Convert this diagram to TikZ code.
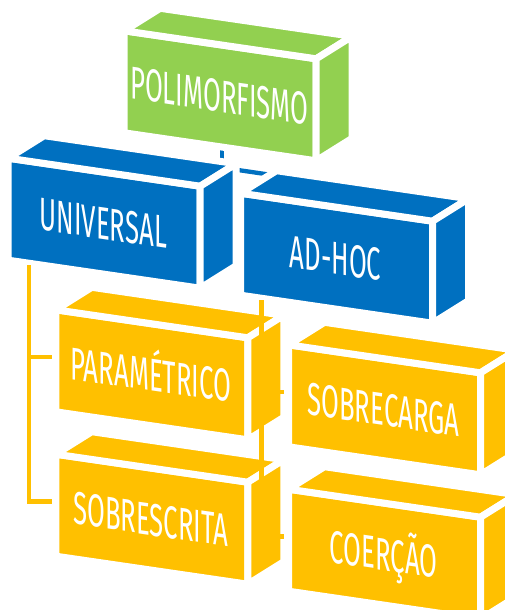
\documentclass[tikz,border=0pt]{standalone}
\usepackage{fontspec}
\usepackage{tikz}
\newfontfamily\agency[FakeStretch=0.56]{Fira Sans}
\definecolor{verde}{HTML}{92D050}
\definecolor{azul}{HTML}{0070C0}
\definecolor{ouro}{HTML}{FFC000}

\newcommand{\caixa}[4]{%
	\begin{scope}[shift={#2}]
		\filldraw[face, fill=#3] (0,0) -- (192,28) -- (192,130) -- (0,102) -- cycle;
		\filldraw[face, fill=#3] (0,0) -- (36,-22.5) -- (228,5.5) -- (192,28) -- cycle;
		\filldraw[face, fill=#3] (192,28) -- (228,5.5) -- (228,107.5) -- (192,130) -- cycle;
		\node[rotulo] (#1) at (95,65) {#4};
		\coordinate (#1-w) at (-4.3,47.3);
		\coordinate (#1-s) at (21,107);
		\coordinate (#1-sc) at (98,119);
		\coordinate (#1-ne) at (214,9.5);
		\coordinate (#1-nw) at (31.5,-18.2);
	\end{scope}
}

\begin{document}
\begin{tikzpicture}[x=1pt, y=-1pt,
		face/.style={draw=white, line width=7pt, line join=round},
		rotulo/.style={text=white, inner sep=0pt, text height=32pt, text depth=0pt, yslant=-0.146,
			font=\agency\fontsize{46}{46}\selectfont},
		linha/.style={line width=4.3pt}]
	\useasboundingbox (0,0) rectangle (505,610);
	\clip (0,0) rectangle (505,610);
	\coordinate (poli-sc) at (222.2,150);
	\coordinate (univ-ne) at (222.2,167.7);
	\coordinate (adhoc-nw) at (272,175);
	\draw[linha, azul] (poli-sc) -- (univ-ne);
	\draw[linha, azul] (univ-ne) -- (adhoc-nw);
	\caixa{poli}{(124.2,30.8)}{verde}{POLIMORFISMO}
	\caixa{univ}{(8.2,158.2)}{azul}{UNIVERSAL}
	\caixa{adhoc}{(240.5,193.2)}{azul}{AD-HOC}
	\caixa{param}{(55.8,309.8)}{ouro}{PARAMÉTRICO}
	\caixa{sobrescr}{(55.8,454.2)}{ouro}{SOBRESCRITA}
	\caixa{sobrecarga}{(288.5,344.8)}{ouro}{SOBRECARGA}
	\caixa{coercao}{(288.5,489.2)}{ouro}{COERÇÃO}
	\draw[linha, ouro, line join=miter] (univ-s) |- (sobrescr-w |- sobrescr-w) -- (sobrescr-w);
	\draw[linha, ouro] (univ-s |- param-w) -- (param-w);
	\draw[linha, ouro] (adhoc-s) -- (adhoc-s |- coercao-w) -- (coercao-w);
	\draw[linha, ouro] (adhoc-s |- sobrecarga-w) -- (sobrecarga-w);
\end{tikzpicture}
\end{document}
